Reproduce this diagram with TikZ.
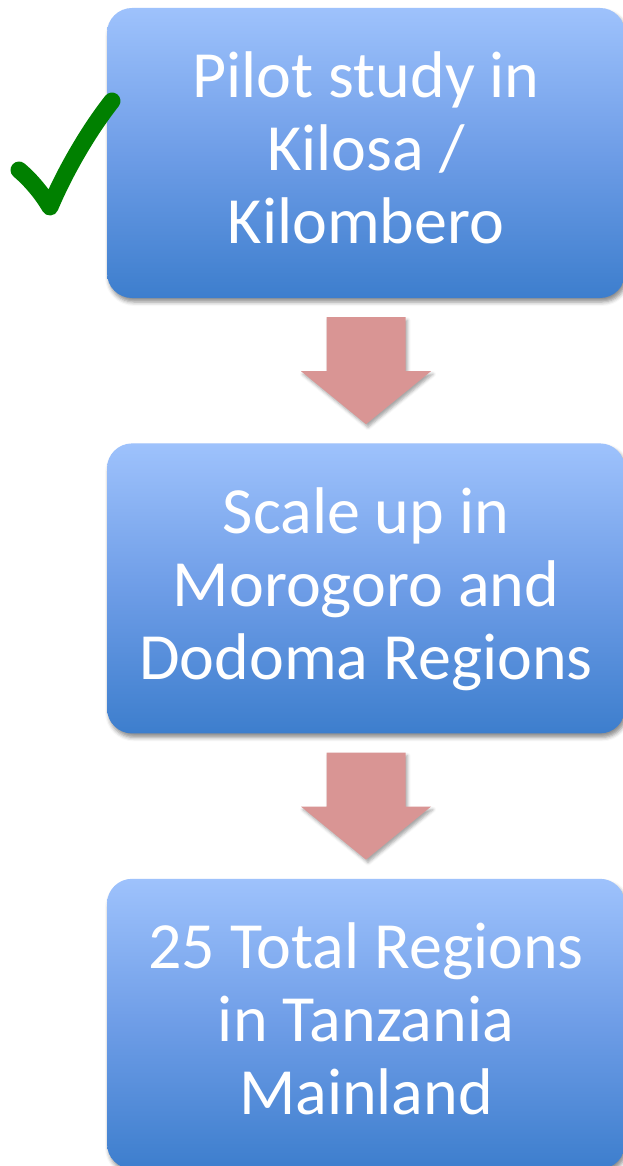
\documentclass[tikz,border=0pt]{standalone}
\usepackage{fontspec}
\setmainfont{Carlito}
\usetikzlibrary{calc,positioning,shadows.blur}
\definecolor{boxtop}{RGB}{158,194,252}
\definecolor{boxmid}{RGB}{110,157,231}
\definecolor{boxbottom}{RGB}{61,126,205}
\definecolor{arrowrose}{RGB}{217,149,148}
\definecolor{checkgreen}{RGB}{0,128,0}
\begin{document}
\begin{tikzpicture}[x=1pt,y=-1pt,
    stagebox/.style={rectangle,rounded corners=25pt,minimum width=518pt,
        minimum height=290pt,inner sep=0pt,text width=500pt,align=center,
        text height=50pt,text depth=160pt,text=white,
        top color=boxtop,bottom color=boxbottom,middle color=boxmid,
        blur shadow={shadow xshift=2pt,shadow yshift=-4pt,shadow blur radius=4pt,shadow opacity=45},
        font=\fontsize{66}{73}\selectfont,
        execute at begin node={\spaceskip=15pt\relax}},
    blockarrow/.style={fill=arrowrose,
        blur shadow={shadow xshift=2pt,shadow yshift=-3pt,shadow blur radius=3pt,shadow opacity=35}},
    check/.style={draw=checkgreen,line width=17pt,line cap=round,line join=round}]
\useasboundingbox (0,0) rectangle (623,1166);

\node[stagebox] (pilot) at (366,153) {Pilot study in\\Kilosa /\\Kilombero};
\node[stagebox,below=145pt of pilot] (scale) {Scale up in\\Morogoro and\\Dodoma Regions};
\node[stagebox,below=145pt of scale] (total) {25 Total Regions\\in Tanzania\\Mainland};

% block arrows between the stages
\foreach \a/\b in {pilot/scale,scale/total}
  \path[blockarrow] ($(\a.south)+(-39.5,19)$) -- ($(\a.south)+(39.5,19)$)
      -- ($(\a.south)+(39.5,73)$) -- ($(\a.south)+(65,73)$)
      -- ($(\b.north)+(0,-19)$) -- ($(\a.south)+(-65,73)$)
      -- ($(\a.south)+(-39.5,73)$) -- cycle;

% tick mark
\draw[check] (19,170) .. controls (32,181) and (43,195) .. (50,207)
    .. controls (63,176) and (86,134) .. (112,101);
\end{tikzpicture}
\end{document}
